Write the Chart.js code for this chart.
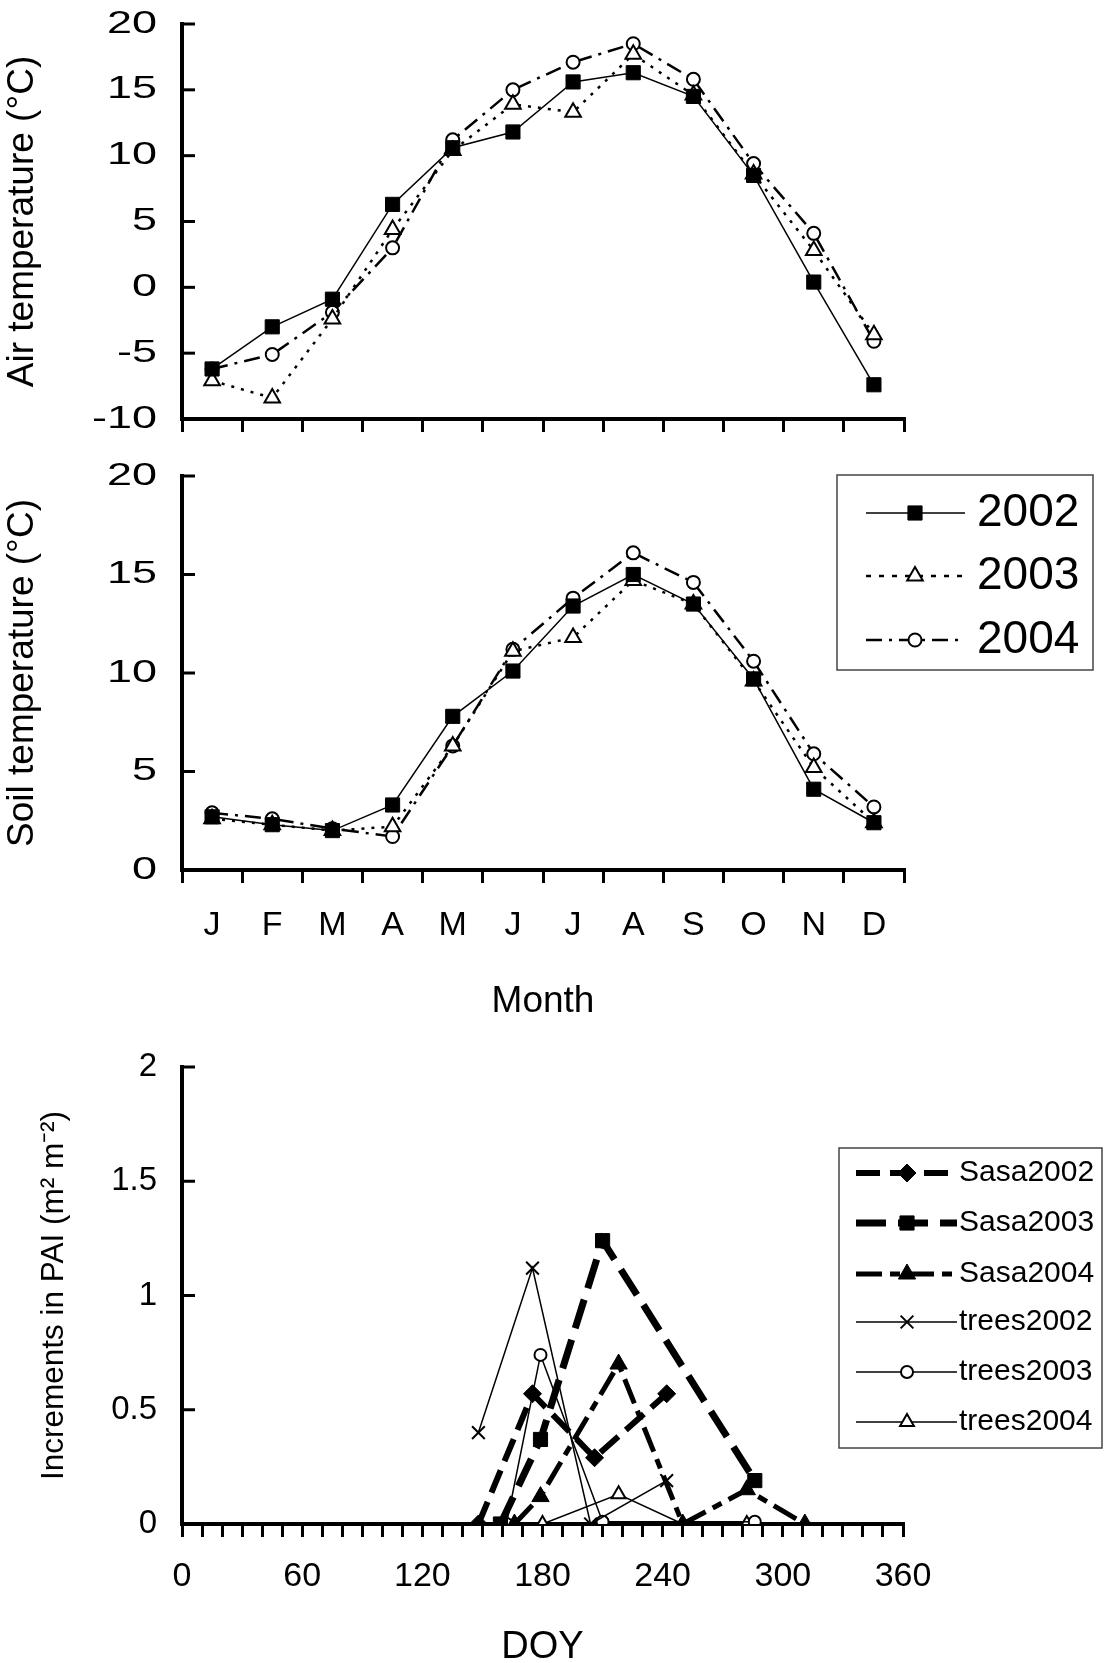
<!DOCTYPE html>
<html>
<head>
<meta charset="utf-8">
<script src="https://cdn.jsdelivr.net/npm/chart.js@4.4.1/dist/chart.umd.min.js"></script>
<style>
  body { margin: 0; background: #fff; }
  .panel { position: absolute; left: 0; }
</style>
</head>
<body>
<div class="panel" style="top:0px"><canvas id="air" width="1105" height="450"></canvas></div>
<div class="panel" style="top:450px"><canvas id="soil" width="1105" height="600"></canvas></div>
<div class="panel" style="top:1040px"><canvas id="pai" width="1105" height="640"></canvas></div>
<script>
// Monthly means
const months = ['J', 'F', 'M', 'A', 'M', 'J', 'J', 'A', 'S', 'O', 'N', 'D'];
const air2002 = [-6.2, -3.0, -0.9, 6.3, 10.6, 11.8, 15.6, 16.3, 14.5, 8.5, 0.4, -7.4];
const air2003 = [-7.1, -8.4, -2.4, 4.4, 10.4, 13.9, 13.3, 17.7, 14.6, 8.6, 2.8, -3.6];
const air2004 = [-6.2, -5.1, -1.9, 3.0, 11.2, 15.0, 17.1, 18.5, 15.8, 9.4, 4.1, -4.1];
const soil2002 = [2.7, 2.3, 2.0, 3.3, 7.8, 10.1, 13.4, 15.0, 13.5, 9.7, 4.1, 2.4];
const soil2003 = [2.6, 2.3, 2.0, 2.2, 6.3, 11.1, 11.8, 14.7, 13.5, 9.6, 5.2, 2.4];
const soil2004 = [2.9, 2.6, 2.1, 1.7, 6.3, 11.2, 13.8, 16.1, 14.6, 10.6, 5.9, 3.2];

// PAI increments by day of year
const sasa2002Doy = [148, 175, 206, 242];
const sasa2002Pai = [0, 0.57, 0.29, 0.57];
const sasa2003Doy = [159, 179, 210, 286];
const sasa2003Pai = [0, 0.37, 1.24, 0.19];
const sasa2004Doy = [166, 179, 218, 250, 282, 311];
const sasa2004Pai = [0, 0.12, 0.70, 0, 0.15, 0];
const trees2002Doy = [148, 175, 204, 242];
const trees2002Pai = [0.40, 1.12, 0, 0.19];
const trees2003Doy = [162, 179, 210, 286];
const trees2003Pai = [0, 0.74, 0.01, 0.01];
const trees2004Doy = [180, 218, 250, 282];
const trees2004Pai = [0, 0.13, 0, 0];

const doyLabelStep = 60;

const FONT = '"Liberation Sans", Arial, sans-serif';
Chart.defaults.font.family = FONT;
Chart.defaults.color = '#000';
Chart.defaults.animation = false;

function pts(xs, ys) {
    return xs.map((x, i) => ({ x: x, y: ys[i] }));
}

// scales should not reserve extra room for their edge labels
function noEdgePad(s) {
    s.paddingTop = 0;
    s.paddingBottom = 0;
    s.paddingLeft = 0;
    s.paddingRight = 0;
}

// inward tick marks on the y axis
const innerTicks = {
    id: 'innerTicks',
    afterDatasetsDraw(chart) {
        const y = chart.scales.y;
        const ctx = chart.ctx;
        const left = chart.chartArea.left;
        ctx.save();
        ctx.strokeStyle = '#000';
        ctx.lineWidth = 3;
        y.ticks.forEach(t => {
            const py = y.getPixelForValue(t.value);
            ctx.beginPath();
            ctx.moveTo(left, py);
            ctx.lineTo(left + 13, py);
            ctx.stroke();
        });
        ctx.restore();
    }
};

// the temperature panels have horizontally stretched y labels
const wideYLabels = {
    id: 'wideYLabels',
    afterDraw(chart, args, opts) {
        if (!opts.stretch) return;
        const y = chart.scales.y;
        const ctx = chart.ctx;
        ctx.save();
        ctx.font = opts.font;
        ctx.fillStyle = '#000';
        ctx.textAlign = 'right';
        ctx.textBaseline = 'middle';
        y.ticks.forEach(t => {
            ctx.save();
            ctx.translate(opts.right, y.getPixelForValue(t.value));
            ctx.scale(opts.stretch, 1);
            ctx.fillText(t.label, 0, 0);
            ctx.restore();
        });
        ctx.restore();
    }
};

// boxed legend with line sample + marker
const boxLegend = {
    id: 'boxLegend',
    afterDraw(chart, args, opts) {
        if (!opts.rows) return;
        const ctx = chart.ctx;
        ctx.save();
        ctx.strokeStyle = '#444';
        ctx.lineWidth = 1.5;
        ctx.strokeRect(opts.left, opts.top, opts.width, opts.height);
        ctx.font = opts.font;
        ctx.textBaseline = 'middle';
        chart.data.datasets.forEach((ds, i) => {
            const y = opts.rows[i];
            ctx.save();
            ctx.strokeStyle = '#000';
            ctx.lineWidth = ds.borderWidth;
            ctx.setLineDash(ds.legendDash || ds.borderDash || []);
            ctx.beginPath();
            ctx.moveTo(opts.lineFrom, y);
            ctx.lineTo(opts.lineTo, y);
            ctx.stroke();
            ctx.restore();
            ctx.save();
            ctx.fillStyle = ds.pointBackgroundColor;
            ctx.strokeStyle = '#000';
            ctx.lineWidth = ds.pointBorderWidth;
            Chart.helpers.drawPoint(ctx, {
                pointStyle: ds.pointStyle,
                radius: ds.pointRadius,
                rotation: 0,
                borderWidth: ds.pointBorderWidth
            }, opts.markX, y);
            ctx.restore();
            ctx.fillStyle = '#000';
            ctx.fillText(ds.label, opts.textX, y);
        });
        ctx.restore();
    }
};

function yearSets(d2002, d2003, d2004) {
    return [
        { label: '2002', data: d2002, borderColor: '#000', borderWidth: 1.5,
          pointStyle: 'rect', pointRadius: 10, pointBackgroundColor: '#000',
          pointBorderColor: '#000', pointBorderWidth: 1 },
        { label: '2003', data: d2003, borderColor: '#000', borderWidth: 2.5, borderDash: [3, 7],
          legendDash: [5, 8],
          pointStyle: 'triangle', pointRadius: 9, pointBackgroundColor: '#fff',
          pointBorderColor: '#000', pointBorderWidth: 2 },
        { label: '2004', data: d2004, borderColor: '#000', borderWidth: 2.5, borderDash: [16, 7, 3, 7],
          pointStyle: 'circle', pointRadius: 6.5, pointBackgroundColor: '#fff',
          pointBorderColor: '#000', pointBorderWidth: 2 }
    ];
}

function monthOptions(cfg) {
    return {
        responsive: false,
        devicePixelRatio: 1,
        layout: { padding: { top: cfg.top, right: 201, left: 0, bottom: 0 } },
        plugins: {
            legend: { display: false },
            tooltip: { enabled: false },
            boxLegend: cfg.legend || {},
            wideYLabels: { stretch: 1.45, right: 157, font: '31px ' + FONT }
        },
        scales: {
            x: {
                type: 'category',
                offset: true,
                grid: { display: true, offset: true, drawOnChartArea: false, drawTicks: true,
                        tickLength: 13, lineWidth: 3, color: '#000' },
                border: { display: true, width: 4, color: '#000' },
                ticks: { display: cfg.showMonths, font: { size: 34 }, padding: 22, autoSkip: false, maxRotation: 0 },
                title: { display: !!cfg.xTitle, text: cfg.xTitle, font: { size: 37 }, padding: { bottom: 26 } },
                afterFit: s => { s.height = cfg.xHeight; noEdgePad(s); }
            },
            y: {
                min: cfg.min, max: cfg.max,
                ticks: { stepSize: 5, display: false },
                grid: { display: false, drawTicks: false },
                border: { display: true, width: 4, color: '#000' },
                title: { display: true, text: cfg.yTitle, font: { size: 37 }, padding: { top: 1, bottom: 0 } },
                afterFit: s => { s.width = 182; noEdgePad(s); }
            }
        }
    };
}

new Chart(document.getElementById('air'), {
    type: 'line',
    data: { labels: months, datasets: yearSets(air2002, air2003, air2004) },
    options: monthOptions({ top: 24, min: -10, max: 20, yTitle: 'Air temperature (°C)',
                            showMonths: false, xHeight: 31 }),
    plugins: [innerTicks, wideYLabels]
});

new Chart(document.getElementById('soil'), {
    type: 'line',
    data: { labels: months, datasets: yearSets(soil2002, soil2003, soil2004) },
    options: monthOptions({ top: 26, min: 0, max: 20, yTitle: 'Soil temperature (°C)',
                            showMonths: true, xTitle: 'Month', xHeight: 180,
                            legend: { left: 837, top: 25, width: 256, height: 195, rows: [63, 126, 190],
                                      lineFrom: 866, lineTo: 965, markX: 915, textX: 977,
                                      font: '46px ' + FONT } }),
    plugins: [innerTicks, wideYLabels, boxLegend]
});

new Chart(document.getElementById('pai'), {
    type: 'line',
    data: {
        datasets: [
            { label: 'Sasa2002', data: pts(sasa2002Doy, sasa2002Pai), borderColor: '#000', borderWidth: 6,
              borderDash: [24, 10], pointStyle: 'rectRot', pointRadius: 9, pointBackgroundColor: '#000',
              pointBorderColor: '#000', pointBorderWidth: 1 },
            { label: 'Sasa2003', data: pts(sasa2003Doy, sasa2003Pai), borderColor: '#000', borderWidth: 7,
              borderDash: [30, 12], pointStyle: 'rect', pointRadius: 10, pointBackgroundColor: '#000',
              pointBorderColor: '#000', pointBorderWidth: 1 },
            { label: 'Sasa2004', data: pts(sasa2004Doy, sasa2004Pai), borderColor: '#000', borderWidth: 5,
              borderDash: [26, 8, 10, 8], pointStyle: 'triangle', pointRadius: 10, pointBackgroundColor: '#000',
              pointBorderColor: '#000', pointBorderWidth: 1 },
            { label: 'trees2002', data: pts(trees2002Doy, trees2002Pai), borderColor: '#000', borderWidth: 1.5,
              pointStyle: 'crossRot', pointRadius: 9, pointBackgroundColor: '#000',
              pointBorderColor: '#000', pointBorderWidth: 2 },
            { label: 'trees2003', data: pts(trees2003Doy, trees2003Pai), borderColor: '#000', borderWidth: 1.5,
              pointStyle: 'circle', pointRadius: 6, pointBackgroundColor: '#fff',
              pointBorderColor: '#000', pointBorderWidth: 2 },
            { label: 'trees2004', data: pts(trees2004Doy, trees2004Pai), borderColor: '#000', borderWidth: 1.5,
              pointStyle: 'triangle', pointRadius: 8, pointBackgroundColor: '#fff',
              pointBorderColor: '#000', pointBorderWidth: 2 }
        ]
    },
    options: {
        responsive: false,
        devicePixelRatio: 1,
        layout: { padding: { top: 27, right: 202, left: 0, bottom: 0 } },
        plugins: {
            legend: { display: false },
            tooltip: { enabled: false },
            boxLegend: { left: 839, top: 108, width: 263, height: 300, rows: [133, 183, 234, 282, 332, 382],
                         lineFrom: 856, lineTo: 957, markX: 907, textX: 959,
                         font: '30px ' + FONT }
        },
        scales: {
            x: {
                type: 'linear', min: 0, max: 360,
                ticks: { stepSize: 10, autoSkip: false, maxRotation: 0, font: { size: 34 }, padding: 19,
                         callback: v => (v % doyLabelStep === 0 ? String(v) : '') },
                grid: { drawOnChartArea: false, drawTicks: true, tickLength: 13, lineWidth: 3, color: '#000' },
                border: { display: true, width: 4, color: '#000' },
                title: { display: true, text: 'DOY', font: { size: 38 }, padding: { bottom: 10 } },
                afterFit: s => { s.height = 156; noEdgePad(s); }
            },
            y: {
                min: 0, max: 2,
                ticks: { stepSize: 0.5, font: { size: 33 }, padding: 25, callback: v => String(v) },
                grid: { display: false, drawTicks: false },
                border: { display: true, width: 4, color: '#000' },
                title: { display: true, text: 'Increments in PAI (m² m⁻²)', font: { size: 31.5 },
                         padding: { top: 35, bottom: 0 } },
                afterFit: s => { s.width = 182; noEdgePad(s); }
            }
        }
    },
    plugins: [innerTicks, boxLegend]
});
</script>
</body>
</html>
